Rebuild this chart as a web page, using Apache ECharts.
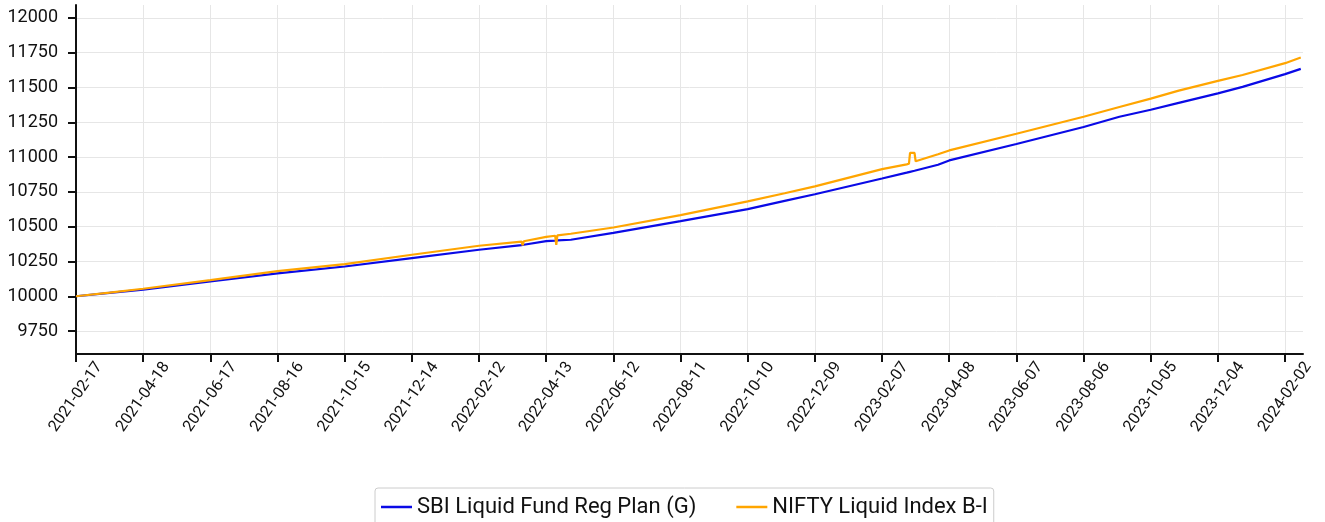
<!DOCTYPE html>
<html><head><meta charset="utf-8">
<script src="https://cdn.jsdelivr.net/npm/echarts@6/dist/echarts.min.js"></script>
<style>html,body{margin:0;padding:0;background:#fff}#c{width:1325px;height:522px}</style>
</head><body><div id="c"></div>
<script>
// Sample dates
const dates = [
  '2021-02-17','2021-03-19','2021-04-18','2021-06-17','2021-08-16','2021-10-15','2021-12-14',
  '2022-02-12','2022-03-22','2022-03-23','2022-03-24','2022-04-13','2022-04-21','2022-04-22',
  '2022-04-23','2022-05-05','2022-06-12','2022-08-11','2022-10-10','2022-11-12','2022-12-09',
  '2023-02-07','2023-03-01','2023-03-03','2023-03-04','2023-03-08','2023-03-09','2023-03-29',
  '2023-04-08','2023-06-07','2023-08-06','2023-09-07','2023-10-05','2023-10-30','2023-12-04',
  '2023-12-26','2024-02-02','2024-02-16'
];
const sbiValues = [
  10000,10024,10047,10106,10165,10214,10274,
  10334,10368,10369,10370,10396,10400,10401,
  10402,10406,10455,10540,10626,10685,10733,
  10846,10888,10892,10894,10902,10904,10945,
  10976,11094,11216,11290,11340,11390,11458,
  11505,11596,11634
];
const niftyValues = [
  10000,10026,10054,10116,10180,10231,10298,
  10363,10393,10366,10395,10427,10435,10370,
  10437,10449,10494,10583,10682,10740,10790,
  10914,10948,10952,11030,11030,10970,11020,
  11048,11168,11290,11360,11420,11478,11548,
  11590,11675,11716
];
const xTickLabels = [
  '2021-02-17','2021-04-18','2021-06-17','2021-08-16','2021-10-15','2021-12-14',
  '2022-02-12','2022-04-13','2022-06-12','2022-08-11','2022-10-10','2022-12-09',
  '2023-02-07','2023-04-08','2023-06-07','2023-08-06','2023-10-05','2023-12-04','2024-02-02'
];
const yTickLabels = [9750,10000,10250,10500,10750,11000,11250,11500,11750,12000];
const seriesNames = ['SBI Liquid Fund Reg Plan (G)','NIFTY Liquid Index B-I'];
const axisEndDate = '2024-02-18';

// day offset from the first date (the x scale is in days)
const dayOf = s => Math.round((Date.parse(s) - Date.parse(dates[0])) / 86400000);
const xTickDays = xTickLabels.map(dayOf);
const xMax = dayOf(axisEndDate);

const chart = echarts.init(document.getElementById('c'), null, {renderer:'canvas'});
const font = 'Roboto';
chart.setOption({
  animation: false,
  textStyle: {fontFamily: font},
  grid: {left: 76, right: 22, top: 5, bottom: 168, outerBoundsMode: 'none'},
  legend: {
    left: 375, top: 488,
    padding: [8, 6, 8, 6],
    itemGap: 40, itemWidth: 31, itemHeight: 2.5,
    icon: 'rect',
    borderColor: '#cccccc', borderWidth: 1, borderRadius: 3,
    textStyle: {fontSize: 22, color: '#111', fontFamily: font},
    data: seriesNames
  },
  xAxis: [{
    type: 'value',
    min: 0, max: xMax,
    axisLine: {lineStyle: {color: '#111', width: 2}},
    axisTick: {show: true, length: 8, lineStyle: {color: '#111', width: 2}, customValues: xTickDays},
    axisLabel: {show: false},
    splitLine: {show: true, lineStyle: {color: '#e6e6e6', width: 1}}
  }, {
    type: 'value', position: 'bottom', offset: 7,
    min: 0, max: xMax,
    axisLine: {show: false}, axisTick: {show: false}, splitLine: {show: false},
    axisLabel: {
      customValues: xTickDays,
      rotate: 55, margin: 36, align: 'center', verticalAlign: 'middle',
      fontSize: 16, color: '#111', fontFamily: font,
      formatter: v => { const i = xTickDays.indexOf(Math.round(v)); return i >= 0 ? xTickLabels[i] : ''; }
    }
  }],
  yAxis: {
    type: 'value', min: 9585, max: 12093,
    axisLine: {show: true, lineStyle: {color: '#111', width: 2}},
    axisTick: {show: true, length: 8, lineStyle: {color: '#111', width: 2}, customValues: yTickLabels},
    axisLabel: {customValues: yTickLabels, margin: 18, fontSize: 18, color: '#111', fontFamily: font,
      formatter: v => String(Math.round(v))},
    splitLine: {show: true, lineStyle: {color: '#e6e6e6', width: 1}}
  },
  series: [
    {name: seriesNames[0], type: 'line', symbol: 'none', color: '#0a0ae6',
     lineStyle: {width: 2.2, color: '#0a0ae6'}, data: dates.map((d, i) => [dayOf(d), sbiValues[i]])},
    {name: seriesNames[1], type: 'line', symbol: 'none', color: '#ffa500',
     lineStyle: {width: 2.2, color: '#ffa500'}, data: dates.map((d, i) => [dayOf(d), niftyValues[i]])}
  ]
});
</script>
</body></html>
